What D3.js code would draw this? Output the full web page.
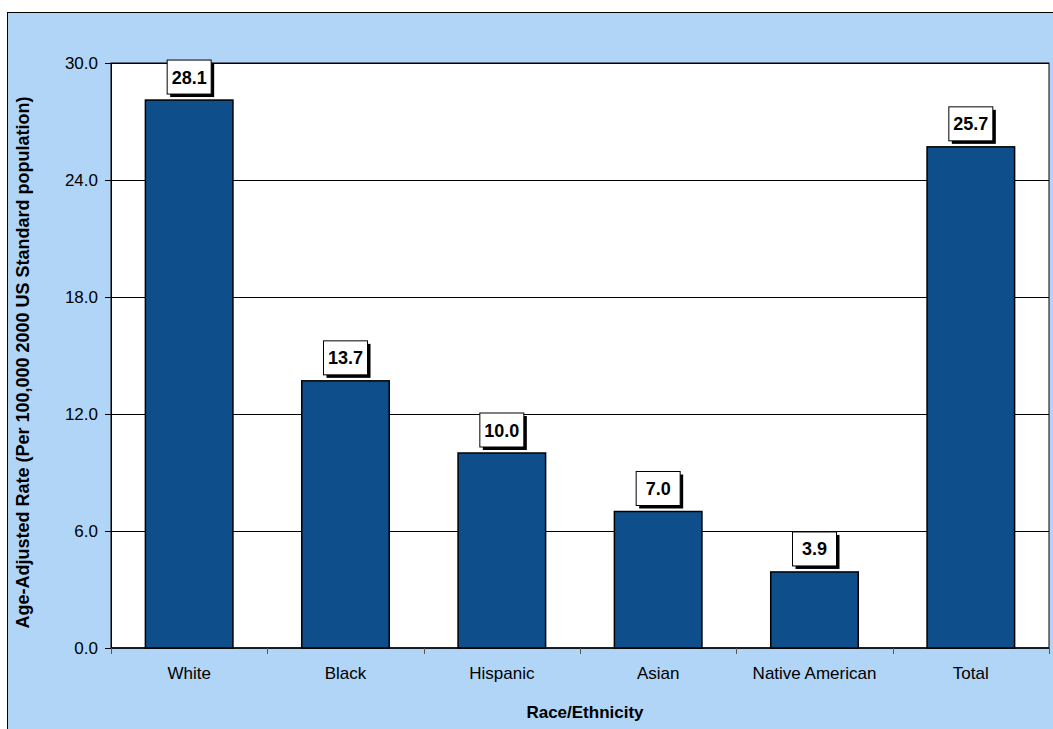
<!DOCTYPE html>
<html>
<head>
<meta charset="utf-8">
<script src="https://cdn.jsdelivr.net/npm/d3@7"></script>
<style>
  body { margin: 0; background: #fff; }
  svg { display: block; font-family: Arial, "Liberation Sans", sans-serif; }
</style>
</head>
<body>
<svg id="chart" width="1053" height="729"></svg>
<script>
var categories = ['White', 'Black', 'Hispanic', 'Asian', 'Native American', 'Total']
var rates = [28.1, 13.7, 10.0, 7.0, 3.9, 25.7]
var yTicks = [0, 6, 12, 18, 24, 30]

var W = 1053, H = 729
var m = {top: 63, right: 4, bottom: 81, left: 111}
var iw = W - m.left - m.right
var ih = H - m.top - m.bottom

var svg = d3.select('#chart')

// outer chart area
svg.append('rect')
    .attr('x', 7.5).attr('y', 12.5)
    .attr('width', W).attr('height', H)
    .attr('fill', '#b0d5f7')
    .attr('stroke', '#000')

var g = svg.append('g').attr('transform', `translate(${m.left},${m.top})`)

var x = d3.scaleBand().domain(categories).range([0, iw]).paddingInner(0.44).paddingOuter(0.22)
var y = d3.scaleLinear().domain([0, 30]).range([ih, 0])

g.append('rect')
    .attr('width', iw).attr('height', ih)
    .attr('fill', '#fff')
    .attr('stroke', '#000')

// gridlines
g.selectAll('.grid')
    .data(yTicks.filter(d => d > 0))
    .enter().append('line')
    .attr('x1', 0).attr('x2', iw)
    .attr('y1', d => Math.round(y(d)) + 0.5)
    .attr('y2', d => Math.round(y(d)) + 0.5)
    .attr('stroke', '#000')

// y axis
var yAxis = g.append('g')
    .call(d3.axisLeft(y).tickValues(yTicks).tickFormat(d3.format('.1f')).tickSize(6).tickPadding(7))
yAxis.attr('font-family', null).attr('font-size', null)
yAxis.select('.domain').attr('stroke', '#000')
yAxis.selectAll('text').attr('font-size', 17).attr('fill', '#000').attr('dy', '0.35em')

// x axis, ticks at category boundaries
var step = iw / categories.length
var xAxis = g.append('g').attr('transform', `translate(0,${ih})`)
xAxis.append('line').attr('x1', 0).attr('x2', iw).attr('stroke', '#000').attr('stroke-width', 1.5)
xAxis.selectAll('.tk')
    .data(d3.range(categories.length + 1))
    .enter().append('line')
    .attr('x1', i => Math.round(i * step) + 0.5)
    .attr('x2', i => Math.round(i * step) + 0.5)
    .attr('y1', 0).attr('y2', 6)
    .attr('stroke', '#555')
xAxis.selectAll('.lbl')
    .data(categories)
    .enter().append('text')
    .attr('x', d => x(d) + x.bandwidth() / 2)
    .attr('y', 31)
    .attr('text-anchor', 'middle')
    .attr('font-size', 17)
    .text(d => d)

// bars
var data = categories.map((c, i) => ({cat: c, v: rates[i]}))
g.selectAll('.bar')
    .data(data)
    .enter().append('rect')
    .attr('x', d => x(d.cat))
    .attr('y', d => y(d.v))
    .attr('width', x.bandwidth())
    .attr('height', d => ih - y(d.v))
    .attr('fill', '#0d4e8b')
    .attr('stroke', '#000')
    .attr('stroke-width', 1.5)

// value labels with drop shadow
var lab = g.selectAll('.val')
    .data(data)
    .enter().append('g')
    .attr('transform', d => `translate(${x(d.cat) + x.bandwidth() / 2},${y(d.v) - 23})`)
lab.append('rect')
    .attr('x', -19).attr('y', -14).attr('width', 44).attr('height', 34)
    .attr('fill', '#000')
lab.append('rect')
    .attr('x', -22).attr('y', -17).attr('width', 44).attr('height', 34)
    .attr('fill', '#fff')
    .attr('stroke', '#000')
lab.append('text')
    .attr('y', 6.5)
    .attr('text-anchor', 'middle')
    .attr('font-size', 18)
    .attr('font-weight', 'bold')
    .text(d => d3.format('.1f')(d.v))

// axis titles
svg.append('text')
    .attr('x', m.left + iw / 2 + 5)
    .attr('y', 718)
    .attr('text-anchor', 'middle')
    .attr('font-size', 17)
    .attr('font-weight', 'bold')
    .text('Race/Ethnicity')

svg.append('text')
    .attr('transform', `translate(29,${m.top + ih / 2 + 7}) rotate(-90)`)
    .attr('text-anchor', 'middle')
    .attr('font-size', 18)
    .attr('font-weight', 'bold')
    .text('Age-Adjusted Rate (Per 100,000 2000 US Standard population)')
</script>
</body>
</html>
